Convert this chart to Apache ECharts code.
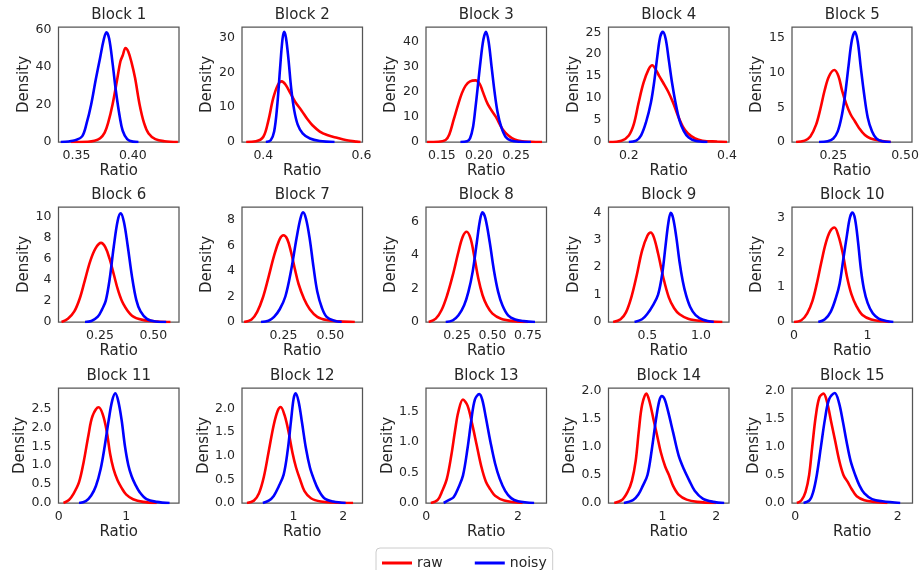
<!DOCTYPE html>
<html><head><meta charset="utf-8">
<script src="https://cdn.jsdelivr.net/npm/echarts@6/dist/echarts.min.js"></script>
<style>html,body{margin:0;padding:0;background:#fff}#c{width:922px;height:570px}</style>
</head><body><div id="c"></div>
<script>
const blockNames = ["Block 1","Block 2","Block 3","Block 4","Block 5","Block 6","Block 7","Block 8","Block 9","Block 10","Block 11","Block 12","Block 13","Block 14","Block 15"];
const seriesNames = ["raw","noisy"];

const raw = [
 [[0.345,0],[0.36,0.1],[0.366,0.6],[0.371,2],[0.375,5],[0.378,10],[0.382,20],[0.386,33],[0.389,43],[0.391,46],[0.3935,50],[0.396,48],[0.399,42],[0.402,34],[0.406,20],[0.41,10],[0.414,4.5],[0.42,1.5],[0.428,0.4],[0.44,0]],
 [[0.365,0],[0.385,0.2],[0.40,1.5],[0.41,6],[0.42,12.5],[0.43,16.5],[0.4375,17.4],[0.445,16.5],[0.455,14],[0.465,11.5],[0.478,9],[0.49,6.5],[0.5,4.8],[0.515,3],[0.53,2],[0.55,1.2],[0.57,0.5],[0.59,0.1],[0.598,0]],
 [[0.13,0],[0.145,0.1],[0.155,0.8],[0.16,3],[0.166,9],[0.172,15],[0.177,19.5],[0.182,22.5],[0.188,24.2],[0.1955,24.6],[0.201,23.2],[0.2046,20.5],[0.212,15],[0.2228,10],[0.232,5],[0.24,2.5],[0.248,1],[0.258,0.3],[0.27,0.1],[0.285,0]],
 [[0.16,0],[0.185,0.3],[0.2,1.5],[0.21,4],[0.22,9],[0.23,13.5],[0.24,16.5],[0.2477,17.5],[0.255,16.5],[0.262,15],[0.27,13.5],[0.28,11.5],[0.29,9],[0.3,6],[0.31,3.5],[0.32,2],[0.335,0.8],[0.35,0.3],[0.38,0.1],[0.4,0]],
 [[0.12,0],[0.15,0.2],[0.17,0.8],[0.19,2.5],[0.205,4.8],[0.22,7.5],[0.235,9.5],[0.2535,10.4],[0.268,9.5],[0.28,7.5],[0.295,5.5],[0.31,4],[0.325,3],[0.34,2],[0.36,1],[0.38,0.5],[0.41,0.2],[0.45,0]],
 [[0.07,0],[0.1,0.3],[0.13,1],[0.155,2.2],[0.18,4],[0.205,5.8],[0.23,7],[0.255,7.5],[0.275,7.1],[0.295,6],[0.315,4.5],[0.335,3],[0.36,1.7],[0.4,0.6],[0.45,0.2],[0.52,0.05],[0.58,0]],
 [[0.04,0],[0.08,0.2],[0.11,0.8],[0.14,1.9],[0.17,3.5],[0.2,5.2],[0.23,6.5],[0.25,6.8],[0.27,6.5],[0.29,5.5],[0.31,4.2],[0.33,3],[0.36,1.8],[0.39,1],[0.43,0.4],[0.48,0.15],[0.55,0.05],[0.63,0]],
 [[0.05,0],[0.1,0.2],[0.14,0.7],[0.18,1.6],[0.22,2.8],[0.26,4.2],[0.29,5.1],[0.318,5.4],[0.345,5],[0.37,4],[0.4,2.6],[0.43,1.6],[0.46,1],[0.5,0.5],[0.56,0.2],[0.65,0.05],[0.75,0]],
 [[0.18,0],[0.25,0.1],[0.3,0.35],[0.35,0.9],[0.4,1.7],[0.45,2.6],[0.5,3.15],[0.531,3.27],[0.56,3.1],[0.6,2.5],[0.65,1.6],[0.7,0.9],[0.75,0.5],[0.8,0.28],[0.88,0.12],[1.0,0.04],[1.2,0]],
 [[0.0,0],[0.1,0.05],[0.18,0.25],[0.25,0.6],[0.31,1.1],[0.37,1.7],[0.43,2.25],[0.49,2.6],[0.55,2.71],[0.6,2.5],[0.66,2],[0.72,1.3],[0.78,0.8],[0.85,0.45],[0.93,0.2],[1.05,0.07],[1.2,0.02],[1.3,0]],
 [[0.07,0],[0.15,0.08],[0.22,0.25],[0.3,0.55],[0.37,1.1],[0.44,1.8],[0.5,2.3],[0.59,2.53],[0.65,2.35],[0.71,1.9],[0.76,1.3],[0.81,0.9],[0.87,0.6],[0.93,0.4],[1.0,0.22],[1.1,0.1],[1.25,0.03],[1.45,0]],
 [[0.06,0],[0.2,0.05],[0.3,0.2],[0.4,0.55],[0.5,1.1],[0.6,1.65],[0.68,1.95],[0.74,2.03],[0.82,1.85],[0.9,1.5],[0.98,1.05],[1.05,0.75],[1.13,0.5],[1.22,0.25],[1.35,0.1],[1.55,0.03],[1.8,0.01],[2.2,0]],
 [[0.1,0],[0.25,0.05],[0.35,0.2],[0.45,0.4],[0.55,0.8],[0.63,1.2],[0.7,1.5],[0.8,1.7],[0.9,1.6],[1.0,1.3],[1.1,0.95],[1.2,0.6],[1.3,0.35],[1.4,0.22],[1.5,0.12],[1.7,0.04],[2.1,0]],
 [[0.1,0],[0.25,0.06],[0.35,0.2],[0.43,0.4],[0.5,0.75],[0.56,1.3],[0.62,1.75],[0.7,1.95],[0.76,1.8],[0.83,1.5],[0.9,1.2],[0.97,0.9],[1.05,0.65],[1.12,0.5],[1.2,0.3],[1.3,0.15],[1.45,0.06],[1.65,0.02],[2.0,0]],
 [[0.03,0],[0.12,0.05],[0.2,0.2],[0.27,0.5],[0.33,1.0],[0.4,1.55],[0.47,1.88],[0.55,1.95],[0.62,1.8],[0.7,1.45],[0.78,1.1],[0.86,0.75],[0.94,0.5],[1.02,0.38],[1.1,0.25],[1.2,0.12],[1.35,0.05],[1.55,0.02],[1.8,0]]
];

const noisy = [
 [[0.336,0],[0.343,0.3],[0.349,1],[0.355,3],[0.359,10],[0.363,20],[0.367,33],[0.371,45],[0.374,54],[0.3765,58.4],[0.379,55],[0.382,42],[0.385,27],[0.3885,13],[0.391,6],[0.395,1.5],[0.400,0.2],[0.405,0]],
 [[0.405,0],[0.415,0.5],[0.422,3],[0.428,10],[0.434,21],[0.439,29.5],[0.4425,31.6],[0.446,30],[0.451,24],[0.457,15],[0.463,9],[0.47,5],[0.48,2.5],[0.495,1],[0.515,0.3],[0.545,0]],
 [[0.175,0],[0.184,0.3],[0.188,1.5],[0.192,6],[0.195,13],[0.198,21],[0.202,32],[0.206,41],[0.2095,44],[0.213,40],[0.217,30],[0.221,20],[0.225,12],[0.23,6],[0.236,2],[0.243,0.6],[0.255,0.1],[0.27,0]],
 [[0.2,0],[0.215,0.3],[0.225,1.5],[0.235,4.5],[0.245,9],[0.252,14],[0.258,19.5],[0.264,24],[0.2694,25.1],[0.275,23.5],[0.281,19],[0.288,13.5],[0.295,9],[0.303,5],[0.312,2.5],[0.322,1],[0.335,0.3],[0.36,0]],
 [[0.2,0],[0.23,0.1],[0.25,0.5],[0.265,1.5],[0.278,3.5],[0.29,6.5],[0.303,11],[0.315,14.8],[0.3257,15.9],[0.335,14.5],[0.345,11],[0.357,7],[0.37,3.5],[0.385,1.5],[0.4,0.5],[0.42,0.1],[0.45,0]],
 [[0.18,0],[0.21,0.1],[0.24,0.5],[0.26,1.2],[0.277,2],[0.295,4],[0.315,7.2],[0.333,9.6],[0.347,10.3],[0.362,9.5],[0.38,7.2],[0.4,4.3],[0.42,2.1],[0.44,1],[0.47,0.3],[0.51,0.05],[0.56,0]],
 [[0.13,0],[0.17,0.1],[0.2,0.4],[0.23,1],[0.26,2],[0.29,4],[0.32,6.6],[0.34,8.1],[0.354,8.6],[0.37,8.1],[0.39,6.5],[0.41,4.3],[0.43,2.4],[0.455,1.1],[0.48,0.4],[0.52,0.1],[0.56,0]],
 [[0.17,0],[0.22,0.1],[0.26,0.4],[0.3,1],[0.33,1.8],[0.36,3],[0.39,4.8],[0.41,6],[0.4286,6.56],[0.45,6.2],[0.48,4.8],[0.51,3.1],[0.54,1.8],[0.57,1],[0.61,0.4],[0.66,0.15],[0.72,0.05],[0.8,0]],
 [[0.38,0],[0.45,0.1],[0.5,0.3],[0.55,0.6],[0.6,1],[0.64,1.8],[0.67,2.8],[0.695,3.6],[0.718,3.99],[0.74,3.8],[0.77,3.1],[0.8,2.2],[0.83,1.5],[0.86,1],[0.9,0.55],[0.95,0.25],[1.02,0.08],[1.12,0]],
 [[0.33,0],[0.42,0.08],[0.5,0.3],[0.57,0.7],[0.62,1.1],[0.67,1.8],[0.72,2.5],[0.76,3],[0.795,3.14],[0.83,2.95],[0.87,2.3],[0.91,1.5],[0.95,0.95],[1.0,0.55],[1.07,0.25],[1.15,0.1],[1.25,0.03],[1.35,0]],
 [[0.3,0],[0.4,0.05],[0.48,0.2],[0.55,0.45],[0.62,0.9],[0.68,1.5],[0.74,2.2],[0.79,2.7],[0.837,2.9],[0.88,2.7],[0.93,2.2],[0.98,1.5],[1.03,1.0],[1.08,0.7],[1.13,0.5],[1.2,0.28],[1.3,0.1],[1.45,0.03],[1.64,0]],
 [[0.38,0],[0.5,0.05],[0.6,0.15],[0.7,0.35],[0.8,0.6],[0.88,1.1],[0.95,1.75],[1.0,2.2],[1.04,2.32],[1.1,2.15],[1.17,1.7],[1.25,1.15],[1.33,0.75],[1.41,0.5],[1.5,0.28],[1.62,0.1],[1.8,0.03],[2.05,0]],
 [[0.38,0],[0.5,0.05],[0.6,0.1],[0.7,0.25],[0.8,0.45],[0.9,0.9],[0.98,1.35],[1.06,1.7],[1.156,1.79],[1.22,1.7],[1.3,1.4],[1.4,1.0],[1.5,0.65],[1.6,0.4],[1.72,0.2],[1.85,0.08],[2.0,0.03],[2.35,0]],
 [[0.28,0],[0.45,0.05],[0.55,0.15],[0.63,0.3],[0.72,0.5],[0.8,0.95],[0.88,1.5],[0.94,1.82],[0.987,1.905],[1.04,1.85],[1.1,1.65],[1.2,1.25],[1.3,0.85],[1.4,0.6],[1.5,0.4],[1.6,0.22],[1.75,0.08],[1.95,0.02],[2.15,0]],
 [[0.16,0],[0.28,0.05],[0.35,0.2],[0.42,0.5],[0.5,1.0],[0.58,1.5],[0.66,1.85],[0.77,1.96],[0.85,1.8],[0.93,1.45],[1.0,1.1],[1.08,0.75],[1.17,0.5],[1.25,0.32],[1.35,0.17],[1.5,0.07],[1.7,0.03],[2.05,0]]
];

const xTickLabels = [["0.35","0.40"],["0.4","0.6"],["0.15","0.20","0.25"],["0.2","0.4"],["0.25","0.50"],
 ["0.25","0.50"],["0.25","0.50"],["0.25","0.50","0.75"],["0.5","1.0"],["0","1"],
 ["0","1"],["1","2"],["0","2"],["1","2"],["0","2"]];
const yTickLabels = [["0","20","40","60"],["0","10","20","30"],["0","10","20","30","40"],["0","5","10","15","20","25"],["0","5","10","15"],
 ["0","2","4","6","8","10"],["0","2","4","6","8"],["0","2","4","6"],["0","1","2","3","4"],["0","1","2","3"],
 ["0.0","0.5","1.0","1.5","2.0","2.5"],["0.0","0.5","1.0","1.5","2.0"],["0.0","0.5","1.0","1.5"],["0.0","0.5","1.0","1.5","2.0"],["0.0","0.5","1.0","1.5","2.0"]];
const xMin = [0.334,0.3565,0.1286,0.1586,0.106, 0.056,0.029,0.031,0.137,-0.027, -0.004,-0.04,-0.005,-0.007,-0.065];
const xMax = [0.441,0.602,0.291,0.404,0.524, 0.62,0.671,0.881,1.262,1.61, 1.78,2.39,2.62,2.24,2.29];
const yMax = [61.2,33.0,45.9,26.2,16.6, 10.9,9.02,6.88,4.2,3.3, 3.04,2.43,1.89,2.05,2.05];

const colLeft = [58.5,242,426,608.5,792];
const rowTop = [27,207,388];
const W = 120.5, H = 115;
const TXT = '#262626';
const FONT = 'DejaVu Sans';

const grids=[], xAxes=[], yAxes=[], series=[], titles=[];
for (let i=0;i<15;i++){
  const r=Math.floor(i/5), c=i%5;
  grids.push({left:colLeft[c], top:rowTop[r], width:W, height:H, show:true, borderColor:'#555555', borderWidth:1.25, containLabel:false});
  titles.push({text:blockNames[i], left:colLeft[c]+W/2, top:rowTop[r]-19, textAlign:'center', padding:0,
    textStyle:{fontFamily:FONT,fontSize:15,fontWeight:'normal',color:TXT}});
  const xl = xTickLabels[i], yl = yTickLabels[i];
  xAxes.push({type:'value', gridIndex:i, min:xMin[i], max:xMax[i], name:'Ratio', nameLocation:'middle', nameGap:22,
    nameTextStyle:{fontFamily:FONT,fontSize:15,color:TXT, verticalAlign:'top'},
    axisLine:{show:false}, axisTick:{show:false}, splitLine:{show:false},
    axisLabel:{customValues:xl.map(Number), margin:7, fontFamily:FONT, fontSize:12.5, color:TXT,
      formatter:(v)=>{const k=xl.findIndex(s=>Math.abs(Number(s)-v)<1e-9); return k>=0?xl[k]:'';}}});
  yAxes.push({type:'value', gridIndex:i, min:0, max:yMax[i], name:'Density', nameLocation:'middle', nameGap:(r===2?30:27),
    nameTextStyle:{fontFamily:FONT,fontSize:15,color:TXT},
    axisLine:{show:false}, axisTick:{show:false}, splitLine:{show:false},
    axisLabel:{customValues:yl.map(Number), margin:7, fontFamily:FONT, fontSize:12.5, color:TXT,
      formatter:(v)=>{const k=yl.findIndex(s=>Math.abs(Number(s)-v)<1e-9); return k>=0?yl[k]:'';}}});
  series.push({type:'line', name:seriesNames[0], xAxisIndex:i, yAxisIndex:i, data:raw[i], showSymbol:false, smooth:0.35,
    lineStyle:{width:2.6,color:'#ff0000'}, itemStyle:{color:'#ff0000'}, z:2});
  series.push({type:'line', name:seriesNames[1], xAxisIndex:i, yAxisIndex:i, data:noisy[i], showSymbol:false, smooth:0.35,
    lineStyle:{width:2.6,color:'#0000ff'}, itemStyle:{color:'#0000ff'}, z:3});
}

const chart = echarts.init(document.getElementById('c'), null, {renderer:'canvas'});
chart.setOption({
  animation:false,
  backgroundColor:'#fff',
  title:titles,
  grid:grids, xAxis:xAxes, yAxis:yAxes, series:series,
  legend:{data:seriesNames, left:376, top:548, orient:'horizontal', icon:'rect', itemWidth:30, itemHeight:3, itemGap:32,
    borderColor:'#cccccc', borderWidth:1, borderRadius:4, padding:[8,6,10,6],
    textStyle:{fontFamily:FONT,fontSize:14,color:TXT}}
});
</script></body></html>
